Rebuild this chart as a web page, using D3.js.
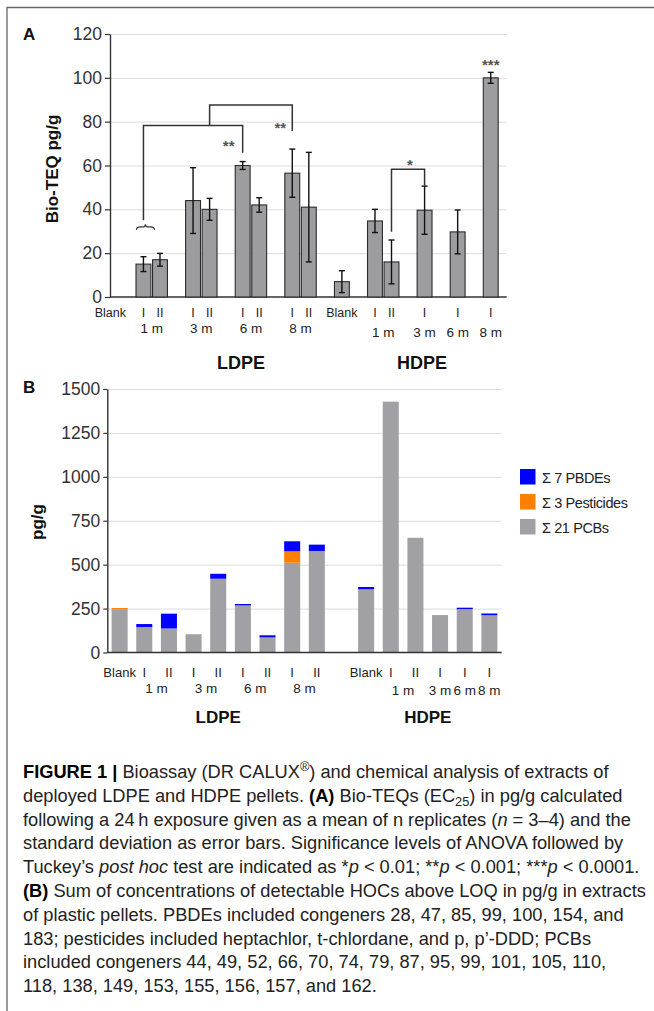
<!DOCTYPE html>
<html><head><meta charset="utf-8">
<script src="https://cdn.jsdelivr.net/npm/d3@7"></script>
<style>
body{margin:0;background:#fff}
svg{display:block}
text{font-family:"Liberation Sans",Arial,Helvetica,sans-serif}
</style>
</head><body>
<svg id="c" width="654" height="1011"></svg>
<script>
// ---------------- DATA ----------------
const barKeys   = ["L-Blank","L-1m-I","L-1m-II","L-3m-I","L-3m-II","L-6m-I","L-6m-II","L-8m-I","L-8m-II","H-Blank","H-1m-I","H-1m-II","H-3m-I","H-6m-I","H-8m-I"];
const polymer   = ["LDPE","LDPE","LDPE","LDPE","LDPE","LDPE","LDPE","LDPE","LDPE","HDPE","HDPE","HDPE","HDPE","HDPE","HDPE"];
const period    = ["Blank","1 m","1 m","3 m","3 m","6 m","6 m","8 m","8 m","Blank","1 m","1 m","3 m","6 m","8 m"];
const replicate = ["","I","II","I","II","I","II","I","II","","I","II","I","I","I"];

// Panel A: Bio-TEQ pg/g (mean) and SD
const bioTEQ    = [null,15,17,44,40,60,42,56.5,41,7,34.7,16,39.6,29.7,100];
const bioTEQsd  = [null,3.4,2.9,15,5,1.8,3.3,11,25,5,5.3,10,11,10,2.5];
const yTicksA   = [0,20,40,60,80,100,120];

// Panel B: stacked sums (pg/g)
const sumPCBs       = [247,145,137,104,420,268,86,511,578,360,1428,653,213,247,212];
const sumPesticides = [6,0,0,0,0,0,0,65,0,0,0,0,0,0,0];
const sumPBDEs      = [0,17,84,0,28,8,12,57,36,13,0,0,0,8,10];
const yTicksB       = [0,250,500,750,1000,1250,1500];
const seriesNames   = ["Σ 7 PBDEs","Σ 3 Pesticides","Σ 21 PCBs"];
const seriesColors  = ["#0000ff","#ff8000","#a1a1a5"];

// significance annotations (panel A), in data terms
const brackets = [
  {from:"L-1m-I", fromY:35, to:"L-6m-I", toY:65.8, top:78.3},
  {from:"L-3m-II", fromY:78.3, to:"L-8m-I", toY:75.7, top:87.6},
  {from:"H-1m-II", fromY:29.8, to:"H-3m-I", toY:50.8, top:58.3}
];
const stars = [
  {key:"L-6m-I", dx:-14, y:70.3, t:"**"},
  {key:"L-8m-I", dx:-12, y:78.5, t:"**"},
  {between:["H-1m-II","H-3m-I"], dx:2, y:61.7, t:"*"},
  {key:"H-8m-I", dx:0, y:107, t:"***"}
];

const captionLines = [
 [["FIGURE 1 | ","b"],["Bioassay (DR CALUX",""],["®","sup"],[") and chemical analysis of extracts of",""]],
 [["deployed LDPE and HDPE pellets. ",""],["(A)","b"],[" Bio-TEQs (EC",""],["25","sub"],[") in pg/g calculated",""]],
 [["following a 24\u2009h exposure given as a mean of n replicates (",""],["n","i"],[" = 3–4) and the",""]],
 [["standard deviation as error bars. Significance levels of ANOVA followed by",""]],
 [["Tuckey’s ",""],["post hoc","i"],[" test are indicated as *",""],["p","i"],[" < 0.01; **",""],["p","i"],[" < 0.001; ***",""],["p","i"],[" < 0.0001.",""]],
 [["(B)","b"],[" Sum of concentrations of detectable HOCs above LOQ in pg/g in extracts",""]],
 [["of plastic pellets. PBDEs included congeners 28, 47, 85, 99, 100, 154, and",""]],
 [["183; pesticides included heptachlor, t-chlordane, and p, p’-DDD; PCBs",""]],
 [["included congeners 44, 49, 52, 66, 70, 74, 79, 87, 95, 99, 101, 105, 110,",""]],
 [["118, 138, 149, 153, 155, 156, 157, and 162.",""]]
];

// ---------------- LAYOUT ----------------
const svg = d3.select("#c");
const ink = "#333";

// frame
svg.append("path").attr("d","M654,7.5H7V1011").attr("fill","none").attr("stroke","#666").attr("stroke-width",1.3);

function slotDomain(breakFn){
  const d=[]; barKeys.forEach((k,i)=>{ if(i>0 && breakFn(i)) d.push("gap"+i); d.push(k); }); return d;
}

// ===== Panel A =====
const A = {left:110, right:506.7, top:34, bottom:297};
const yA = d3.scaleLinear().domain([0,120]).range([A.bottom, A.top]);
const xA = d3.scaleBand()
  .domain(slotDomain(i => period[i]!==period[i-1] || polymer[i]!==polymer[i-1]))
  .range([102.1, 499]).paddingInner(0.1).paddingOuter(0.05);
const cxA = k => xA(k) + xA.bandwidth()/2;

const gA = svg.append("g");
// grid
gA.append("g").attr("transform",`translate(${A.left},0)`)
  .call(d3.axisLeft(yA).tickValues(yTicksA.slice(1)).tickSize(-(A.right-A.left)).tickFormat(""))
  .call(g=>{g.select(".domain").remove(); g.selectAll("line").attr("stroke","#dcdcdc").attr("stroke-width",1);});
// y axis
gA.append("g").attr("transform",`translate(${A.left},0)`)
  .call(d3.axisLeft(yA).tickValues(yTicksA).tickSize(5).tickSizeOuter(0).tickPadding(3).tickFormat(d3.format("d")))
  .call(g=>{
    g.select(".domain").attr("stroke",ink).attr("stroke-width",1.4);
    g.selectAll(".tick line").attr("stroke",ink).attr("stroke-width",1.2);
    g.selectAll(".tick text").attr("font-size",17.5).attr("fill","#333").attr("font-family",'"Liberation Sans",Arial,sans-serif');
  });
// x baseline
gA.append("line").attr("x1",A.left).attr("x2",A.right).attr("y1",yA(0)).attr("y2",yA(0)).attr("stroke",ink).attr("stroke-width",1.5);

// bars
const aData = barKeys.map((k,i)=>({k, v:bioTEQ[i], e:bioTEQsd[i]})).filter(d=>d.v!=null);
gA.selectAll("rect.bar").data(aData).join("rect")
  .attr("x",d=>xA(d.k)).attr("width",xA.bandwidth())
  .attr("y",d=>yA(d.v)).attr("height",d=>yA(0)-yA(d.v))
  .attr("fill","#9d9d9f").attr("stroke","#2b2b2b").attr("stroke-width",1.1);
// error bars
const eb = gA.selectAll("g.eb").data(aData).join("g").attr("stroke","#111").attr("stroke-width",1.4);
eb.append("line").attr("x1",d=>cxA(d.k)).attr("x2",d=>cxA(d.k)).attr("y1",d=>yA(d.v-d.e)).attr("y2",d=>yA(d.v+d.e));
eb.append("line").attr("x1",d=>cxA(d.k)-3).attr("x2",d=>cxA(d.k)+3).attr("y1",d=>yA(d.v-d.e)).attr("y2",d=>yA(d.v-d.e));
eb.append("line").attr("x1",d=>cxA(d.k)-3).attr("x2",d=>cxA(d.k)+3).attr("y1",d=>yA(d.v+d.e)).attr("y2",d=>yA(d.v+d.e));

// brackets
gA.selectAll("path.br").data(brackets).join("path")
  .attr("d",d=>`M${cxA(d.from)},${yA(d.fromY)}V${yA(d.top)}H${cxA(d.to)}V${yA(d.toY)}`)
  .attr("fill","none").attr("stroke","#333").attr("stroke-width",1.5);
// brace over 1 m LDPE
{
  const bx = cxA("L-1m-I")+2, by = yA(32);
  gA.append("path")
    .attr("d",`M${bx-9},${by+3}Q${bx-9},${by} ${bx-5},${by}L${bx-2},${by}Q${bx},${by} ${bx},${by-2.5}Q${bx},${by} ${bx+2},${by}L${bx+5},${by}Q${bx+9},${by} ${bx+9},${by+3}`)
    .attr("fill","none").attr("stroke","#333").attr("stroke-width",1.3);
}
// stars
gA.selectAll("text.star").data(stars).join("text")
  .attr("x",d=> (d.between ? (cxA(d.between[0])+cxA(d.between[1]))/2 : cxA(d.key)) + d.dx)
  .attr("y",d=>yA(d.y)+8).attr("text-anchor","middle")
  .attr("font-size",15).attr("font-weight","bold").attr("fill","#555").text(d=>d.t);

// x labels
const row1 = barKeys.map((k,i)=>({k, t: period[i]==="Blank" ? "Blank" : replicate[i]}));
gA.selectAll("text.r1").data(row1).join("text")
  .attr("x",d=>cxA(d.k)).attr("y",317).attr("text-anchor","middle")
  .attr("font-size",12.5).attr("fill","#222").text(d=>d.t);

function periodGroups(cx){
  const gs = d3.groups(barKeys.map((k,i)=>({k,p:period[i],poly:polymer[i]})).filter(d=>d.p!=="Blank"), d=>d.poly+"|"+d.p);
  return gs.map(([id,arr])=>({poly:arr[0].poly, p:arr[0].p, x:d3.mean(arr,d=>cx(d.k))}));
}
gA.selectAll("text.r2").data(periodGroups(cxA)).join("text")
  .attr("x",d=>d.x).attr("y",d=>d.poly==="LDPE"?333:336.5).attr("text-anchor","middle")
  .attr("font-size",13.5).attr("fill","#222").text(d=>d.p);

const polyLabelA = {LDPE:241, HDPE:422};
gA.selectAll("text.poly").data(["LDPE","HDPE"]).join("text")
  .attr("x",d=>polyLabelA[d]).attr("y",369).attr("text-anchor","middle")
  .attr("font-size",18).attr("font-weight","bold").attr("fill","#111").text(d=>d);

// titles
svg.append("text").attr("x",23).attr("y",40).attr("font-size",17).attr("font-weight","bold").attr("fill","#111").text("A");
svg.append("text").attr("transform",`translate(58,169) rotate(-90)`).attr("text-anchor","middle")
  .attr("font-size",17).attr("font-weight","bold").attr("fill","#111").text("Bio-TEQ pg/g");

// ===== Panel B =====
const B = {left:107.3, right:501.7, top:389, bottom:652.5};
const yB = d3.scaleLinear().domain([0,1500]).range([B.bottom, B.top]);
const xB = d3.scaleBand()
  .domain(slotDomain(i => polymer[i]!==polymer[i-1]))
  .range([B.left, B.right]).paddingInner(0.35).paddingOuter(0.175);
const cxB = k => xB(k) + xB.bandwidth()/2;

const gB = svg.append("g");
gB.append("g").attr("transform",`translate(${B.left},0)`)
  .call(d3.axisLeft(yB).tickValues(yTicksB.slice(1)).tickSize(-(B.right-B.left)).tickFormat(""))
  .call(g=>{g.select(".domain").remove(); g.selectAll("line").attr("stroke","#dcdcdc").attr("stroke-width",1);});
gB.append("g").attr("transform",`translate(${B.left},0)`)
  .call(d3.axisLeft(yB).tickValues(yTicksB).tickSize(4).tickSizeOuter(0).tickPadding(3).tickFormat(d3.format("d")))
  .call(g=>{
    g.select(".domain").attr("stroke",ink).attr("stroke-width",1.4);
    g.selectAll(".tick line").attr("stroke",ink).attr("stroke-width",1.2);
    g.selectAll(".tick text").attr("font-size",17.5).attr("fill","#333").attr("font-family",'"Liberation Sans",Arial,sans-serif');
  });

const bRows = barKeys.map((k,i)=>({k, pcb:sumPCBs[i], pest:sumPesticides[i], pbde:sumPBDEs[i]}));
const stack = d3.stack().keys(["pcb","pest","pbde"])(bRows);
const stackColor = {pcb:seriesColors[2], pest:seriesColors[1], pbde:seriesColors[0]};
gB.selectAll("g.s").data(stack).join("g").attr("fill",d=>stackColor[d.key])
  .selectAll("rect").data(d=>d.filter(s=>s[1]-s[0]>0)).join("rect")
  .attr("x",d=>xB(d.data.k)).attr("width",xB.bandwidth())
  .attr("y",d=>yB(d[1])).attr("height",d=>yB(d[0])-yB(d[1]));

gB.append("line").attr("x1",B.left).attr("x2",B.right).attr("y1",yB(0)).attr("y2",yB(0)).attr("stroke",ink).attr("stroke-width",1.5);

gB.selectAll("text.r1").data(row1).join("text")
  .attr("x",d=>cxB(d.k)).attr("y",676.7).attr("text-anchor","middle")
  .attr("font-size",13).attr("fill","#222").text(d=>d.t);
gB.selectAll("text.r2").data(periodGroups(cxB)).join("text")
  .attr("x",d=>d.x).attr("y",d=>d.poly==="LDPE"?692.5:694.5).attr("text-anchor","middle")
  .attr("font-size",13.5).attr("fill","#222").text(d=>d.p);
const polyMid = p => d3.mean(d3.extent(barKeys.filter((k,i)=>polymer[i]===p).map(cxB)));
gB.selectAll("text.poly").data(["LDPE","HDPE"]).join("text")
  .attr("x",d=>polyMid(d)).attr("y",722.5).attr("text-anchor","middle")
  .attr("font-size",17).attr("font-weight","bold").attr("fill","#111").text(d=>d);

svg.append("text").attr("x",23).attr("y",393).attr("font-size",17).attr("font-weight","bold").attr("fill","#111").text("B");
svg.append("text").attr("transform",`translate(43,522) rotate(-90)`).attr("text-anchor","middle")
  .attr("font-size",17).attr("font-weight","bold").attr("fill","#111").text("pg/g");

// legend
const lg = svg.append("g").selectAll("g").data(seriesNames).join("g")
  .attr("transform",(d,i)=>`translate(520,${469+i*25})`);
lg.append("rect").attr("width",15.5).attr("height",15.5).attr("fill",(d,i)=>seriesColors[i]);
lg.append("text").attr("x",22).attr("y",13.5).attr("font-size",14.5).attr("letter-spacing",-0.4).attr("fill","#222").text(d=>d);

// ===== Caption =====
const cap = svg.append("g");
let capSize = 16;
function drawCaption(size){
  cap.selectAll("*").remove();
  captionLines.forEach((parts,li)=>{
    const t = cap.append("text").attr("x",23).attr("y",778+li*23.8).attr("font-size",size).attr("fill","#222");
    let shift = 0;
    parts.forEach(([s,st])=>{
      const ts = t.append("tspan").text(s);
      if(st==="b") ts.attr("font-weight","bold").attr("fill","#000");
      if(st==="i") ts.attr("font-style","italic");
      if(st==="sup"){ ts.attr("font-size",size*0.7).attr("dy",-size*0.4); shift = size*0.4; return; }
      if(st==="sub"){ ts.attr("font-size",size*0.7).attr("dy",size*0.25); shift = -size*0.25; return; }
      if(shift){ ts.attr("dy",shift); shift = 0; }
    });
  });
}
drawCaption(capSize);
const l5 = cap.selectAll("text").nodes()[4].getComputedTextLength();
capSize = capSize * 617 / l5;
drawCaption(capSize);
</script>
</body></html>
